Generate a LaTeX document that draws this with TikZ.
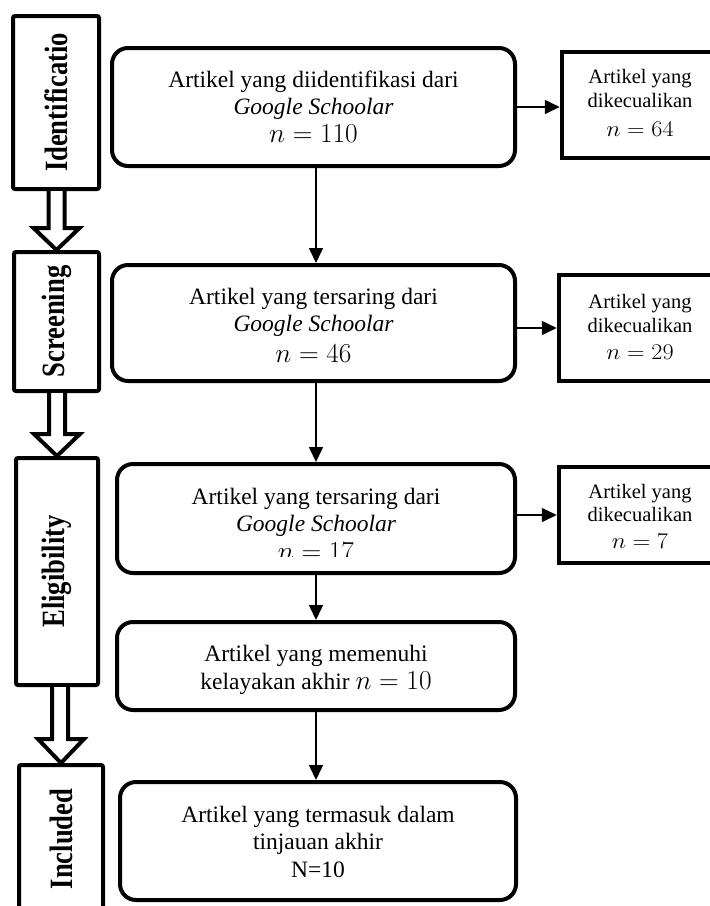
\documentclass[tikz,border=0pt]{standalone}
\usepackage{fontspec}
\setmainfont{Liberation Serif}
\newfontfamily\labfont{Liberation Serif}
\usetikzlibrary{arrows.meta,calc}
\newcommand{\nbig}[1]{\scalebox{1.1}{\fontsize{24.88}{27}\selectfont$n = #1$}}
\newcommand{\nsml}[1]{\scalebox{1.17}[1.08]{\fontsize{20.74}{24}\selectfont$n = #1$}}
\newcommand{\lab}[1]{\rotatebox{90}{\scalebox{1}[1.22]{\labfont\fontsize{26.6}{30}\selectfont\bfseries #1}}}
\newcommand{\tx}[2]{\raisebox{\dimexpr-5.2pt-#1pt\relax}[0pt][0pt]{\begin{tabular}{@{}c@{}}#2\end{tabular}}}
\begin{document}
\begin{tikzpicture}[x=1pt,y=-1pt,
 labbox/.style={draw, line width=4pt, rounded corners=2pt, inner sep=0pt},
 mainbox/.style={draw, line width=4pt, rounded corners=16pt, inner sep=0pt, font=\fontsize{23.5}{27}\selectfont},
 exbox/.style={draw, line width=4.5pt, inner sep=0pt, font=\fontsize{20.5}{24}\selectfont},
 conn/.style={line width=1.6pt, -{Triangle[length=15pt,width=14pt]}},
 hollow/.style={draw, fill=white, line width=4pt, line join=miter}]
\useasboundingbox (0,0) rectangle (710,906);
\clip (0,0) rectangle (710,906);
% stage labels
\node[labbox, minimum width=86pt, minimum height=173pt] (ident) at (56,102.5) {\lab{Identificatio}};
\node[labbox, minimum width=85pt, minimum height=139pt] (screen) at (56.5,321.5) {\lab{Screening}};
\node[labbox, minimum width=82pt, minimum height=227pt] (elig) at (57,571.5) {\lab{Eligibility}};
\node[labbox, minimum width=84pt, minimum height=148pt] (incl) at (61,839) {\lab{Included}};
% hollow arrows
\draw[hollow] let \p1=(ident.south), \p2=(screen.north) in
 (\x2-8pt,\y1) -- (\x2-8pt,\y2+22pt) -- (\x2-23pt,\y2+22pt) -- (\x2,\y2) -- (\x2+23pt,\y2+22pt) -- (\x2+8pt,\y2+22pt) -- (\x2+8pt,\y1);
\draw[hollow] let \p1=(screen.south), \p2=(elig.north) in
 (\x2-8pt,\y1) -- (\x2-8pt,\y2+22pt) -- (\x2-23pt,\y2+22pt) -- (\x2,\y2) -- (\x2+23pt,\y2+22pt) -- (\x2+8pt,\y2+22pt) -- (\x2+8pt,\y1);
\draw[hollow] let \p1=(elig.south), \p2=(incl.north) in
 (\x2-1pt-8pt,\y1) -- (\x2-1pt-8pt,\y2+24pt) -- (\x2-23pt,\y2+24pt) -- (\x2,\y2) -- (\x2+23pt,\y2+24pt) -- (\x2-1pt+8pt,\y2+24pt) -- (\x2-1pt+8pt,\y1);
% main boxes
\node[mainbox, minimum width=403pt, minimum height=118pt] (B1) at (313.5,107)
 {\tx{4.1}{Artikel yang diidentifikasi dari\\ \textit{Google Schoolar}\\[1pt] \nbig{110}}};
\node[mainbox, minimum width=403pt, minimum height=116pt] (B2) at (313.5,323)
 {\tx{6.6}{Artikel yang tersaring dari\\ \textit{Google Schoolar}\\[4pt] \nbig{46}}};
\node[mainbox, minimum width=398pt, minimum height=109pt] (B3) at (316,518.5)
 {\tx{9.9}{Artikel yang tersaring dari\\ \textit{Google Schoolar}\\[1.6pt] \nbig{17}}};
\fill[white] ($(B3.south west)+(18,-18)$) rectangle ($(B3.south east)+(-18,-4)$);
\node[mainbox, minimum width=398pt, minimum height=88pt] (B4) at (316,666)
 {\tx{5.6}{Artikel yang memenuhi\\[1pt] kelayakan akhir \nbig{10}}};
\node[mainbox, minimum width=396pt, minimum height=118pt] (B5) at (318,841)
 {\tx{5}{Artikel yang termasuk dalam\\ tinjauan akhir\\[1pt] N=10}};
% excluded boxes
\node[exbox, minimum width=156pt, minimum height=106pt] (E1) at (640,105)
 {\tx{0}{Artikel yang\\ dikecualikan\\[5pt] \nsml{64}}};
\node[exbox, minimum width=162pt, minimum height=106pt] (E2) at (640,328)
 {\tx{0.7}{Artikel yang\\ dikecualikan\\[3pt] \nsml{29}}};
\node[exbox, minimum width=162pt, minimum height=96pt] (E3) at (640,515)
 {\tx{4}{Artikel yang\\[-1pt] dikecualikan\\[3pt] \nsml{7}}};
% connectors
\draw[conn] (B1.south -| B3.center) -- (B2.north -| B3.center);
\draw[conn] (B2.south -| B3.center) -- (B3.north);
\draw[conn] (B3.south) -- (B4.north);
\draw[conn] (B4.south) -- (B5.north -| B4.south);
\draw[conn] ($(E1.west -| B1.east)+(0,2)$) -- ($(E1.west)+(0,2)$);
\draw[conn] (E2.west -| B2.east) -- (E2.west);
\draw[conn] (E3.west -| B3.east) -- (E3.west);
\end{tikzpicture}
\end{document}
